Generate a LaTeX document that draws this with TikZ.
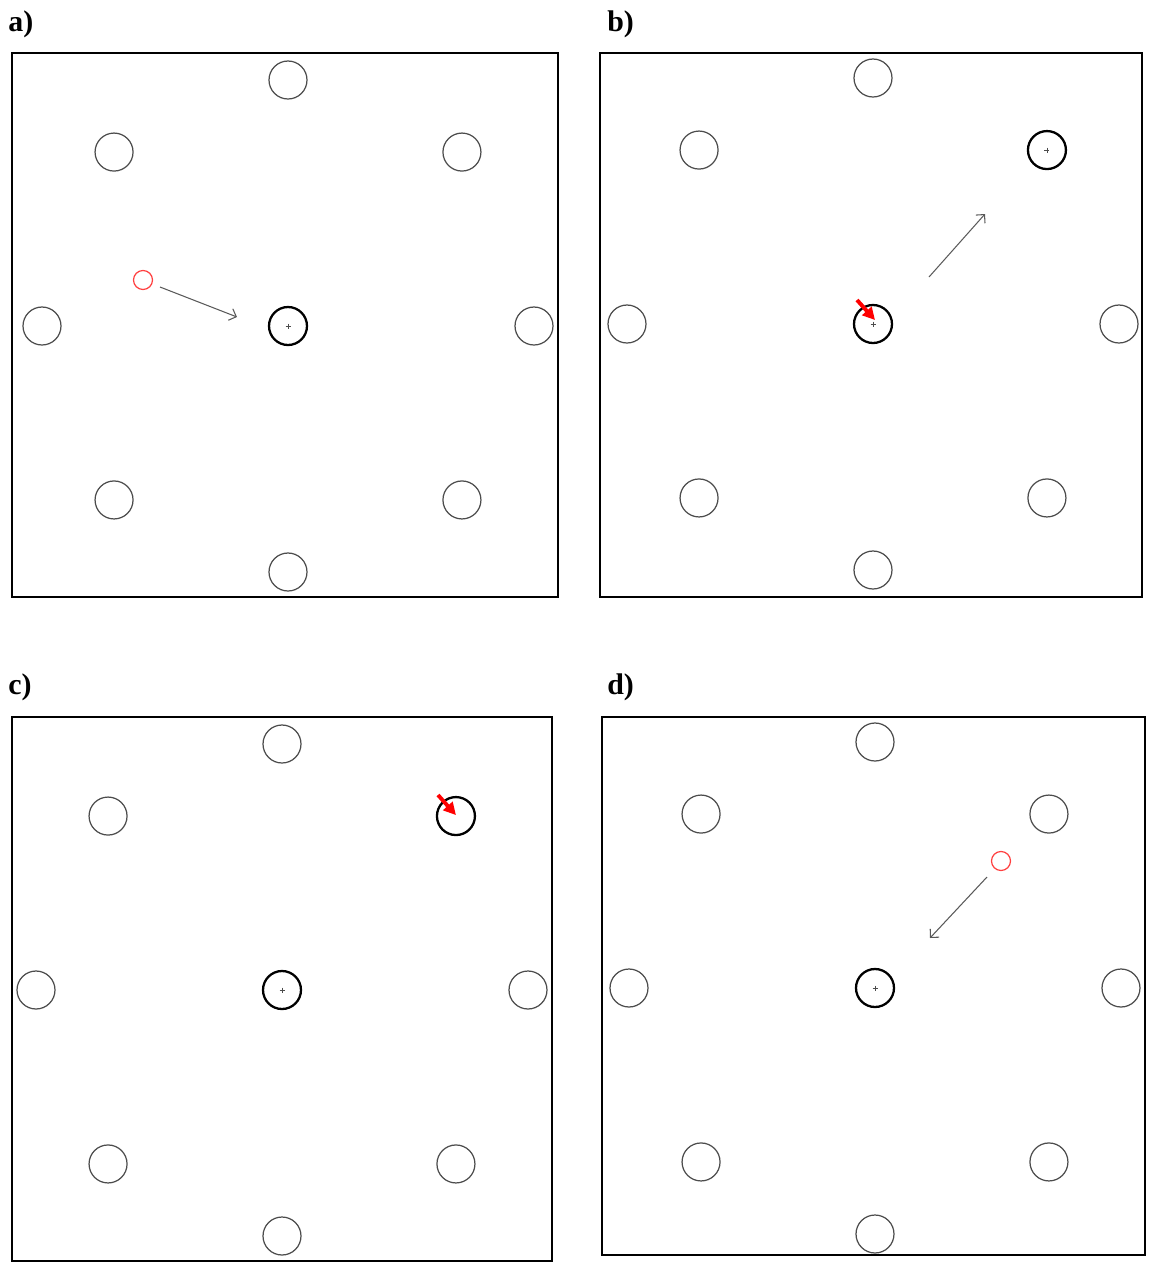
\documentclass[tikz,border=0pt]{standalone}
\usepackage{fontspec}
\setmainfont{Liberation Serif}
\usetikzlibrary{arrows.meta,calc}
\begin{document}
\begin{tikzpicture}[x=0.02cm,y=-0.02cm,
    hole/.style={circle,draw=black!70,line width=0.7pt,minimum size=0.76cm,inner sep=0pt},
    active/.style={hole,draw=black,line width=1.3pt},
    probe/.style={circle,draw=red!75,line width=0.7pt,minimum size=0.38cm,inner sep=0pt},
    move/.style={-{Straight Barb[length=3.5pt,width=7pt]},draw=black!65,line width=0.6pt},
    hit/.style={-{Triangle[length=7pt,width=7pt]},red,line width=2.2pt},
    frame/.style={draw,line width=0.9pt},
    lbl/.style={font=\fontsize{17}{20}\selectfont\bfseries,anchor=base west,inner sep=0pt}]
    \useasboundingbox (0,0) rectangle (1149,1262);
    % a)
    \node[lbl] (la) at (8,31) {a)};
    \draw[frame] (12,53) rectangle (558,597);
    \node[active] (ac) at (288,326) {};
    \foreach \k in {0,...,7}
        \node[hole] (a\k) at ($(288,326)+(\k*45:246)$) {};
    \draw[black!70,line width=0.3pt] (ac.center) +(-2.5,0) -- +(2.5,0) +(0,-2.5) -- +(0,2.5);
    \node[probe] (ap) at (143,280) {};
    \coordinate (as) at (160,287);
    \coordinate (ae) at (237,317);
    \draw[move] (as) -- (ae);
    % b)
    \node[lbl] (lb) at (607,31) {b)};
    \draw[frame] (600,53) rectangle (1142,597);
    \node[active] (bc) at (873,324) {};
    \foreach \k in {0,...,7}
        \node[hole] (b\k) at ($(873,324)+(\k*45:246)$) {};
    \node[active] (bt) at (b7) {};
    \draw[black!70,line width=0.3pt] (bc.center) +(-2.5,0) -- +(2.5,0) +(0,-2.5) -- +(0,2.5);
    \draw[black!70,line width=0.3pt] (bt.center) +(-2.5,0) -- +(2.5,0) +(0,-2.5) -- +(0,2.5);
    \coordinate (bs) at (929,277);
    \coordinate (be) at (985,214);
    \draw[move] (bs) -- (be);
    \coordinate (bh) at (857,300);
    \draw[hit] (bh) -- ($(bc.center)+(2,-4)$);
    % c)
    \node[lbl] (lc) at (8,694) {c)};
    \draw[frame] (12,717) rectangle (552,1261);
    \node[active] (cc) at (282,990) {};
    \foreach \k in {0,...,7}
        \node[hole] (c\k) at ($(282,990)+(\k*45:246)$) {};
    \node[active] (ct) at (c7) {};
    \draw[black!70,line width=0.3pt] (cc.center) +(-2.5,0) -- +(2.5,0) +(0,-2.5) -- +(0,2.5);
    \coordinate (ch) at (438,795);
    \draw[hit] (ch) -- ($(ct.center)+(0,-1)$);
    % d)
    \node[lbl] (ld) at (607,694) {d)};
    \draw[frame] (602,717) rectangle (1145,1255);
    \node[active] (dc) at (875,988) {};
    \foreach \k in {0,...,7}
        \node[hole] (d\k) at ($(875,988)+(\k*45:246)$) {};
    \draw[black!70,line width=0.3pt] (dc.center) +(-2.5,0) -- +(2.5,0) +(0,-2.5) -- +(0,2.5);
    \node[probe] (dp) at (1001,861) {};
    \coordinate (ds) at (987,877);
    \coordinate (de) at (930,938);
    \draw[move] (ds) -- (de);
\end{tikzpicture}
\end{document}
